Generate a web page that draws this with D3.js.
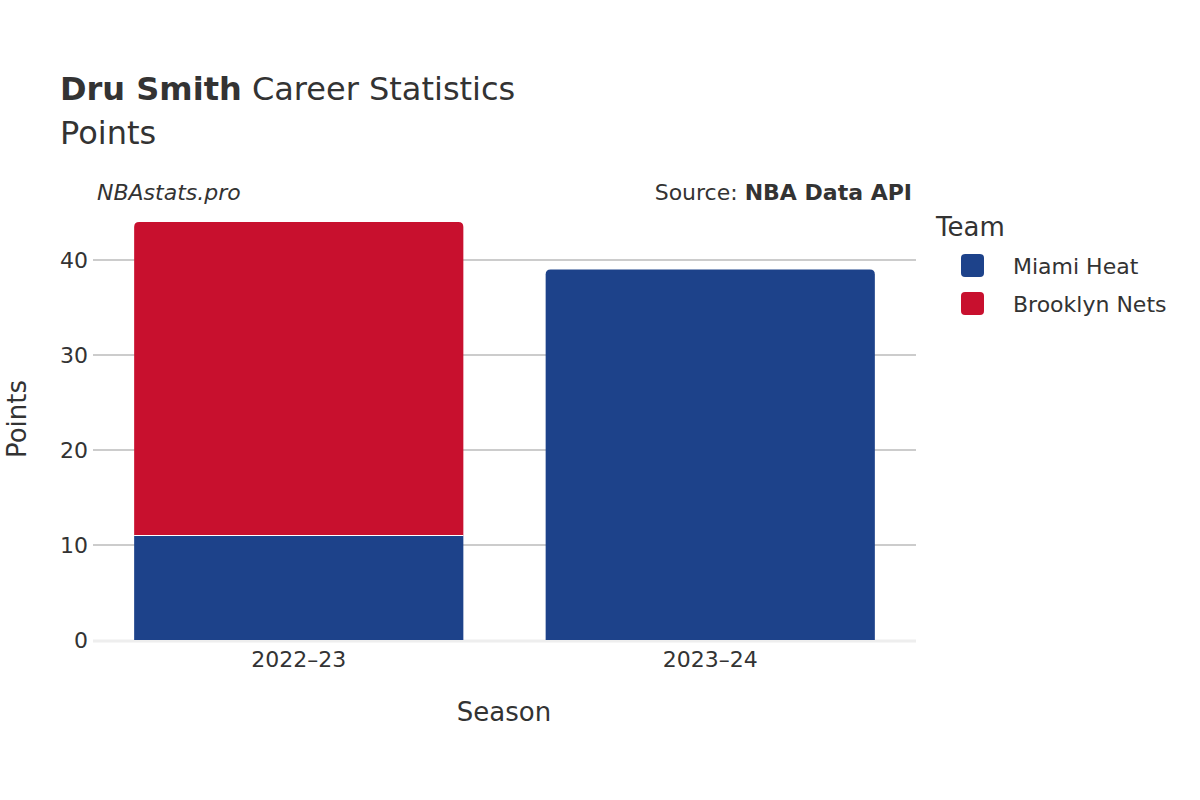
<!DOCTYPE html>
<html><head><meta charset="utf-8">
<script src="https://cdn.jsdelivr.net/npm/d3@7"></script>
<style>body{margin:0;background:#fff}text{font-family:"DejaVu Sans",sans-serif;fill:#333}</style>
</head><body><svg id="c" width="1200" height="800"></svg>
<script>
const seasons = ["2022–23", "2023–24"];
const teams = ["Miami Heat", "Brooklyn Nets"];
const colors = ["#1d428a", "#c8102e"];
const heat = [11, 39];
const nets = [33, 0];
const yTicks = [0, 10, 20, 30, 40];

const svg = d3.select("#c");
const m = {l: 93, r: 916, t: 222, b: 640};
const x = d3.scaleBand().domain(seasons).range([m.l, m.r]).paddingInner(0.2).paddingOuter(0.1);
const y = d3.scaleLinear().domain([0, 44]).range([m.b, m.t]);

svg.append("g").selectAll("line").data(yTicks.filter(d => d > 0)).join("line")
  .attr("x1", m.l).attr("x2", m.r).attr("y1", d => y(d)).attr("y2", d => y(d))
  .attr("stroke", "#bbb").attr("stroke-width", 1.5);
svg.append("line").attr("x1", m.l).attr("x2", m.r).attr("y1", y(0)+1).attr("y2", y(0)+1)
  .attr("stroke", "#eee").attr("stroke-width", 3);

function topRounded(x0, y0, w, h, r) {
  if (h <= 0) return "";
  r = Math.min(r, h);
  return `M${x0},${y0+h}V${y0+r}Q${x0},${y0} ${x0+r},${y0}H${x0+w-r}Q${x0+w},${y0} ${x0+w},${y0+r}V${y0+h}Z`;
}
const stacks = seasons.map((s, i) => ({s, parts: [heat[i], nets[i]]}));
stacks.forEach(st => {
  let base = 0;
  const last = st.parts.reduce((a, v, j) => v > 0 ? j : a, 0);
  st.parts.forEach((v, j) => {
    if (v <= 0) return;
    const y0 = y(base + v), h = y(base) - y(base + v);
    if (j === last) svg.append("path").attr("d", topRounded(x(st.s), y0, x.bandwidth(), h, 5)).attr("fill", colors[j]);
    else svg.append("rect").attr("x", x(st.s)).attr("y", y0).attr("width", x.bandwidth()).attr("height", h).attr("fill", colors[j]);
    if (base > 0) svg.append("line").attr("x1", x(st.s)).attr("x2", x(st.s)+x.bandwidth()).attr("y1", y(base)).attr("y2", y(base)).attr("stroke", "#fff").attr("stroke-width", 1);
    base += v;
  });
});

svg.append("g").selectAll("text").data(yTicks).join("text")
  .attr("x", 88).attr("y", d => y(d) + 8).attr("text-anchor", "end").attr("font-size", 22).text(d => d);
svg.append("g").selectAll("text").data(seasons).join("text")
  .attr("x", d => x(d) + x.bandwidth()/2).attr("y", 667).attr("text-anchor", "middle").attr("font-size", 22).text(d => d);

svg.append("text").attr("x", 504).attr("y", 721).attr("text-anchor", "middle").attr("font-size", 26).text("Season");
svg.append("text").attr("transform", "translate(26,419) rotate(-90)").attr("text-anchor", "middle").attr("font-size", 26).text("Points");

const t = svg.append("text").attr("x", 60).attr("y", 100).attr("font-size", 32);
t.append("tspan").attr("font-weight", "bold").text("Dru Smith");
t.append("tspan").text(" Career Statistics");
svg.append("text").attr("x", 60).attr("y", 144).attr("font-size", 32).text("Points");

svg.append("text").attr("x", 97).attr("y", 200).attr("font-size", 22).attr("font-style", "italic").text("NBAstats.pro");
const src = svg.append("text").attr("x", 912).attr("y", 200).attr("font-size", 22).attr("text-anchor", "end");
src.append("tspan").text("Source: ");
src.append("tspan").attr("font-weight", "bold").text("NBA Data API");

svg.append("text").attr("x", 936).attr("y", 236).attr("font-size", 26).text("Team");
teams.forEach((tm, i) => {
  svg.append("rect").attr("x", 961).attr("y", 254 + i*38).attr("width", 23).attr("height", 23).attr("rx", 4).attr("fill", colors[i]);
  svg.append("text").attr("x", 1013).attr("y", 274 + i*38).attr("font-size", 22).text(tm);
});
</script></body></html>
